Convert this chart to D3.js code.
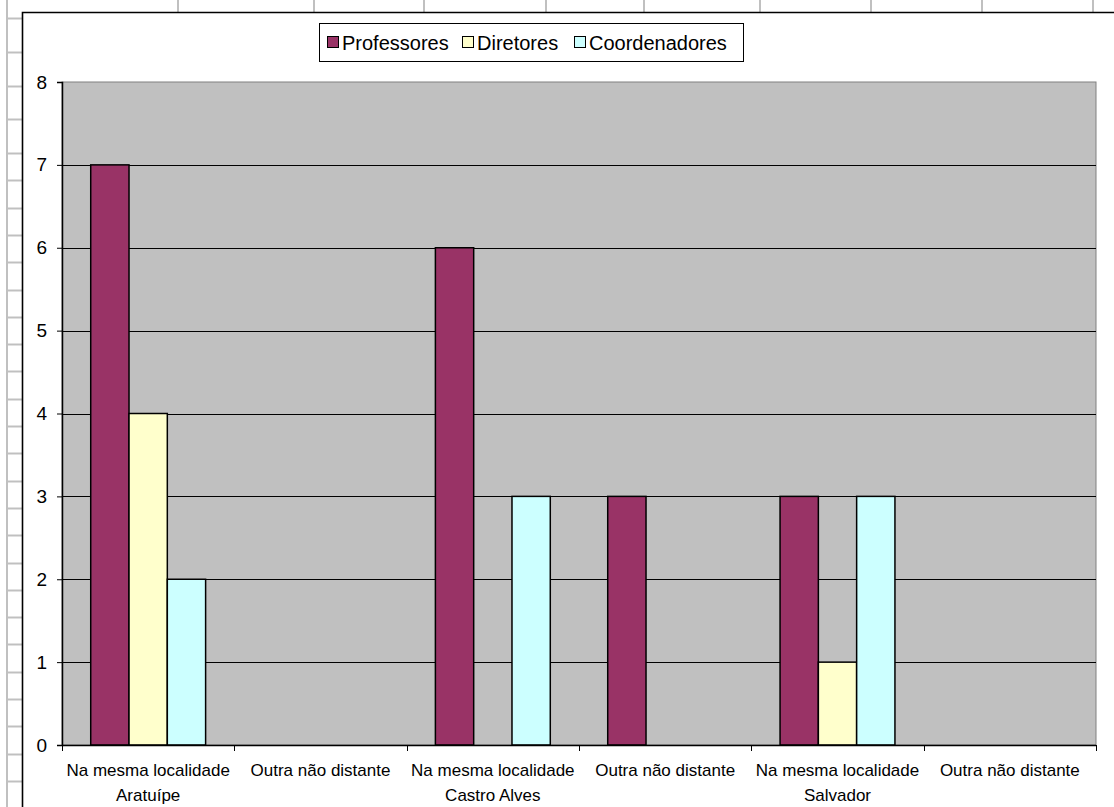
<!DOCTYPE html>
<html>
<head>
<meta charset="utf-8">
<script src="https://cdn.jsdelivr.net/npm/d3@7"></script>
<style>
  html, body { margin: 0; padding: 0; background: #ffffff; }
  svg { display: block; font-family: "Liberation Sans", Arial, sans-serif; }
</style>
</head>
<body>
<svg id="chart" width="1114" height="807"></svg>
<script>
// Category labels (first row) and locality labels (second row)
const categories = [
  "Na mesma localidade", "Outra não distante",
  "Na mesma localidade", "Outra não distante",
  "Na mesma localidade", "Outra não distante"
];
const localities = ["Aratuípe", "", "Castro Alves", "", "Salvador", ""];

// Series
const seriesNames = ["Professores", "Diretores", "Coordenadores"];
const professores   = [7, 0, 6, 3, 3, 0];
const diretores     = [4, 0, 0, 0, 1, 0];
const coordenadores = [2, 0, 3, 0, 3, 0];
const seriesColors  = ["#993366", "#FFFFCC", "#CCFFFF"];

const yTicks = [0, 1, 2, 3, 4, 5, 6, 7, 8];

(function () {
  // Spreadsheet grid around the embedded chart
  const colLines = [7, 178, 314, 424, 546, 644, 760, 871, 982, 1093];
  const rowLines = [18, 52, 86, 119];
  for (let ry = 153; ry < 807; ry += 27.3) rowLines.push(ry);

  const svg = d3.select("#chart");
  const W = 1114, H = 807;

  const sheet = svg.append("g");
  sheet.selectAll("line.col").data(colLines).join("line")
    .attr("x1", d => d).attr("x2", d => d)
    .attr("y1", 0).attr("y2", (d, i) => i === 0 ? H : 12)
    .attr("stroke", "#c0c0c0").attr("stroke-width", 2);
  sheet.selectAll("line.row").data(rowLines).join("line")
    .attr("x1", 8).attr("x2", 22)
    .attr("y1", d => Math.round(d) + 0.5).attr("y2", d => Math.round(d) + 0.5)
    .attr("stroke", "#c0c0c0").attr("stroke-width", 2);

  // Chart frame
  svg.append("rect").attr("x", 22).attr("y", 12.5).attr("width", W).attr("height", H)
    .attr("fill", "#ffffff");
  svg.append("path").attr("d", `M22.5,${H} V12.5 H${W}`)
    .attr("fill", "none").attr("stroke", "#000").attr("stroke-width", 1.6);

  // Plot area bounds
  const pLeft = 62, pRight = 1096, pTop = 82, pBottom = 745;

  const x0 = d3.scaleBand().domain(d3.range(categories.length)).range([pLeft, pRight]).padding(0);
  const x1 = d3.scaleBand().domain(seriesNames).range([0, x0.bandwidth()])
    .paddingInner(0).paddingOuter(0.75);
  const y = d3.scaleLinear().domain([0, 8]).range([pBottom, pTop]);

  svg.append("rect").attr("x", pLeft).attr("y", pTop)
    .attr("width", pRight - pLeft).attr("height", pBottom - pTop)
    .attr("fill", "#c0c0c0").attr("stroke", "#808080").attr("stroke-width", 1);

  // Horizontal gridlines
  svg.append("g").selectAll("line").data(yTicks.filter(t => t > 0 && t < 8)).join("line")
    .attr("x1", pLeft).attr("x2", pRight)
    .attr("y1", d => Math.round(y(d)) + 0.5).attr("y2", d => Math.round(y(d)) + 0.5)
    .attr("stroke", "#000").attr("stroke-width", 1);

  // Bars
  const seriesData = [professores, diretores, coordenadores];
  const bars = [];
  seriesData.forEach((vals, s) => vals.forEach((v, c) => {
    if (v > 0) bars.push({ c, s, v });
  }));
  svg.append("g").selectAll("rect").data(bars).join("rect")
    .attr("x", d => x0(d.c) + x1(seriesNames[d.s]))
    .attr("y", d => y(d.v))
    .attr("width", x1.bandwidth())
    .attr("height", d => y(0) - y(d.v))
    .attr("fill", d => seriesColors[d.s])
    .attr("stroke", "#000").attr("stroke-width", 1.5);

  // Y axis
  const yAxis = svg.append("g").attr("transform", `translate(${pLeft},0)`)
    .call(d3.axisLeft(y).tickValues(yTicks).tickSize(5).tickPadding(10));
  yAxis.attr("font-size", 19).attr("font-family", "Liberation Sans, Arial, sans-serif");
  yAxis.select(".domain").attr("stroke", "#000").attr("stroke-width", 1.5);
  yAxis.selectAll(".tick line").attr("stroke", "#000");
  yAxis.selectAll(".tick text").attr("fill", "#000");

  // X axis: ticks at category boundaries
  const boundaries = d3.range(categories.length + 1).map(i => pLeft + i * x0.bandwidth());
  const xAxisG = svg.append("g");
  xAxisG.append("line").attr("x1", pLeft).attr("x2", pRight)
    .attr("y1", pBottom + 0.5).attr("y2", pBottom + 0.5)
    .attr("stroke", "#000").attr("stroke-width", 1.5);
  xAxisG.selectAll("line.tk").data(boundaries).join("line")
    .attr("x1", d => Math.round(d) + 0.5).attr("x2", d => Math.round(d) + 0.5)
    .attr("y1", pBottom).attr("y2", pBottom + 6)
    .attr("stroke", "#000").attr("stroke-width", 1);

  const labelG = svg.append("g").attr("font-size", 17).attr("fill", "#000")
    .attr("text-anchor", "middle");
  labelG.selectAll("text.cat").data(categories).join("text")
    .attr("x", (d, i) => x0(i) + x0.bandwidth() / 2)
    .attr("y", 776)
    .text(d => d);
  labelG.selectAll("text.loc").data(localities).join("text")
    .attr("x", (d, i) => x0(i) + x0.bandwidth() / 2)
    .attr("y", 801)
    .text(d => d);

  // Legend
  const legend = svg.append("g");
  legend.append("rect").attr("x", 319.5).attr("y", 23.5).attr("width", 424).attr("height", 38)
    .attr("fill", "#fff").attr("stroke", "#000").attr("stroke-width", 1);
  const legendX = [327, 462, 574];
  const items = legend.selectAll("g.item").data(seriesNames).join("g")
    .attr("transform", (d, i) => `translate(${legendX[i]},0)`);
  items.append("rect").attr("x", 0.5).attr("y", 36.5).attr("width", 11).attr("height", 11)
    .attr("fill", (d, i) => seriesColors[i]).attr("stroke", "#000").attr("stroke-width", 1);
  items.append("text").attr("x", 15).attr("y", 50)
    .attr("font-size", 20).attr("fill", "#000")
    .text(d => d);
})();
</script>
</body>
</html>
